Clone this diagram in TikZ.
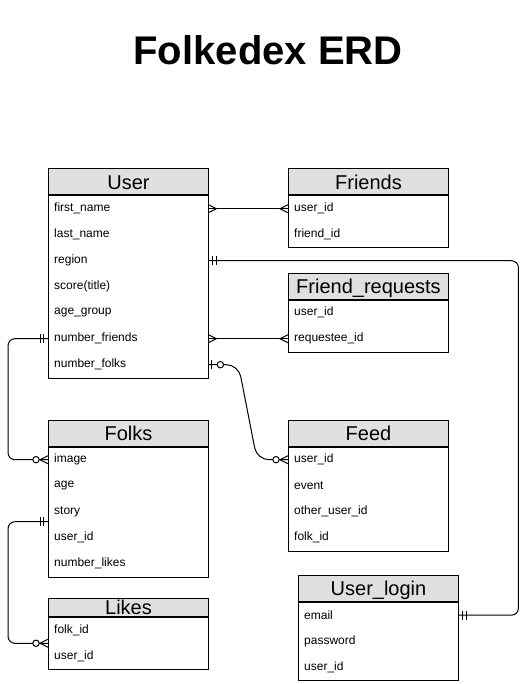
\documentclass[tikz,border=0pt]{standalone}
\usepackage{fontspec}
\setmainfont{Liberation Sans}
\usetikzlibrary{positioning,calc}
\definecolor{headgray}{HTML}{E0E0E0}
\tikzset{
  tblhead/.style={draw, fill=headgray, line width=1pt, anchor=north west, minimum width=160pt, minimum height=26pt, inner sep=0pt, text height=14.5pt, text depth=0pt, font=\fontsize{20}{22}\selectfont},
  tblbody/.style={draw, line width=1pt, minimum width=160pt, inner sep=0pt},
  field/.style={anchor=north west, minimum width=160pt, minimum height=26pt, text width=148pt, inner xsep=6pt, inner ysep=0pt, align=left, font=\fontsize{12}{14}\selectfont},
  conn/.style={line width=1pt},
  ermany/.pic={\draw[line width=1pt] (0pt,-4pt) -- (8pt,0pt) -- (0pt,4pt);},
  erzeromany/.pic={\draw[line width=1pt] (0pt,-4pt) -- (8pt,0pt) -- (0pt,4pt);
    \draw[line width=1pt, fill=white] (12pt,0pt) circle[radius=3.2pt];},
  eroneone/.pic={\draw[line width=1pt] (4.5pt,-4.5pt) -- (4.5pt,4.5pt) (8pt,-4.5pt) -- (8pt,4.5pt);},
  erzeroone/.pic={\draw[line width=1pt] (3.5pt,-4.5pt) -- (3.5pt,4.5pt);
    \draw[line width=1pt, fill=white] (12pt,0pt) circle[radius=3.2pt];}
}
\begin{document}
\begin{tikzpicture}[x=1pt, y=-1pt]
  \useasboundingbox (0,0) rectangle (528,684);
  \node[font=\fontsize{40}{44}\selectfont\bfseries] (title) at (268,50) {Folkedex ERD};

  % tables
  \node[tblhead] (user) at (48,168.5) {User};
  \node[tblbody, minimum height=182pt, below=0pt of user] (userbody) {};
  \foreach \f [count=\i] in {first\_name,last\_name,region,score(title),age\_group,number\_friends,number\_folks}
    \node[field] (user-\i) at ($(userbody.north west)+(0,26*\i-26)$) {\f};

  \node[tblhead] (friends) at (288,168.5) {Friends};
  \node[tblbody, minimum height=52pt, below=0pt of friends] (friendsbody) {};
  \foreach \f [count=\i] in {user\_id,friend\_id}
    \node[field] (friends-\i) at ($(friendsbody.north west)+(0,26*\i-26)$) {\f};

  \node[tblhead] (freq) at (288,272.5) {Friend\_requests};
  \node[tblbody, minimum height=52pt, below=0pt of freq] (freqbody) {};
  \foreach \f [count=\i] in {user\_id,requestee\_id}
    \node[field] (freq-\i) at ($(freqbody.north west)+(0,26*\i-26)$) {\f};

  \node[tblhead] (folks) at (48,419.5) {Folks};
  \node[tblbody, minimum height=130pt, below=0pt of folks] (folksbody) {};
  \foreach \f [count=\i] in {image,age,story,user\_id,number\_likes}
    \node[field] (folks-\i) at ($(folksbody.north west)+(0,26*\i-26)$) {\f};

  \node[tblhead] (feed) at (288,419.5) {Feed};
  \node[tblbody, minimum height=104pt, below=0pt of feed] (feedbody) {};
  \foreach \f [count=\i] in {user\_id,event,other\_user\_id,folk\_id}
    \node[field] (feed-\i) at ($(feedbody.north west)+(0,26*\i-26)$) {\f};

  \node[tblhead, minimum height=17.5pt] (likes) at (48,598.3) {Likes};
  \node[tblbody, minimum height=52pt, below=0pt of likes] (likesbody) {};
  \foreach \f [count=\i] in {folk\_id,user\_id}
    \node[field] (likes-\i) at ($(likesbody.north west)+(0,26*\i-26)$) {\f};

  \node[tblhead] (login) at (298,575) {User\_login};
  \node[tblbody, minimum height=78pt, below=0pt of login] (loginbody) {};
  \foreach \f [count=\i] in {email,password,user\_id}
    \node[field] (login-\i) at ($(loginbody.north west)+(0,26*\i-26)$) {\f};

  % relations
  \coordinate (storyend) at ($(folks-3.west)+(0,10)$);
  \draw[conn] (user-1.east) -- (friends-1.west);
  \draw[conn] (user-6.east) -- (freq-2.west);
  \draw[conn, rounded corners=7pt] (user-3.east) -- ++(310,0) |- (login-1.east);
  \draw[conn, rounded corners=7pt] (user-6.west) -- ++(-40,0) |- (folks-1.west);
  \draw[conn, rounded corners=12pt] (user-7.east) -- ++(30,0) -- ($(feed-1.west)+(-31,0)$) -- (feed-1.west);
  \draw[conn, rounded corners=7pt] (storyend) -- ++(-40,0) |- (likesbody.west);

  \pic at (user-1.east) {ermany};
  \pic[rotate=180] at (friends-1.west) {ermany};
  \pic at (user-6.east) {ermany};
  \pic[rotate=180] at (freq-2.west) {ermany};
  \pic at (user-3.east) {eroneone};
  \pic at (login-1.east) {eroneone};
  \pic[rotate=180] at (user-6.west) {eroneone};
  \pic[rotate=180] at (folks-1.west) {erzeromany};
  \pic at (user-7.east) {erzeroone};
  \pic[rotate=180] at (feed-1.west) {erzeromany};
  \pic[rotate=180] at (storyend) {eroneone};
  \pic[rotate=180] at (likesbody.west) {erzeromany};
\end{tikzpicture}
\end{document}
